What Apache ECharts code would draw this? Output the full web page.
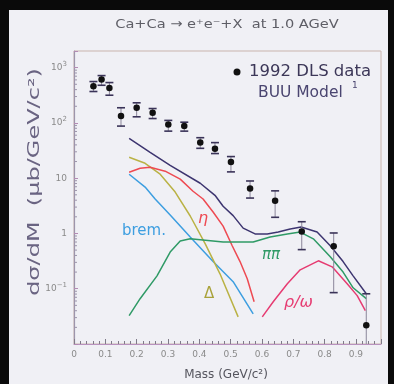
<!DOCTYPE html>
<html><head><meta charset="utf-8">
<script src="https://cdn.jsdelivr.net/npm/echarts@6/dist/echarts.min.js"></script>
<style>
html,body{margin:0;padding:0;background:#0a0a0a;}
#panel{position:absolute;left:9px;top:10px;width:379px;height:374px;background:#f0f0f5;}
#c{position:absolute;left:0;top:0;width:394px;height:384px;}
</style>
</head><body><div id="panel"></div><div id="c"></div>
<script>
// DLS dielectron data: mass (GeV/c^2), cross section and error limits (μb/GeV/c^2)
const dlsMass = [0.062, 0.088, 0.113, 0.150, 0.200, 0.251, 0.301, 0.352, 0.403, 0.450, 0.501, 0.562, 0.642, 0.727, 0.829, 0.933];
const dlsValue = [460, 608, 430, 133, 188, 152, 94, 88, 44, 34, 19.7, 6.5, 3.9, 1.08, 0.587, 0.0218];
const dlsHigh = [560, 718, 537, 188, 231, 182, 111, 103, 54, 44, 24.6, 8.9, 5.9, 1.63, 1.02, 0.081];
const dlsLow = [370, 480, 317, 87.6, 129, 120, 71, 71, 34.7, 27.9, 13, 4.37, 1.96, 0.51, 0.085, 0.01];

// BUU model contributions
const totalMass = [0.176, 0.243, 0.307, 0.403, 0.450, 0.476, 0.508, 0.540, 0.578, 0.617, 0.652, 0.690, 0.725, 0.776, 0.818, 0.859, 0.891, 0.933];
const totalValue = [52.6, 29.4, 17.1, 8.1, 4.9, 3.1, 2.1, 1.25, 0.98, 0.98, 1.06, 1.2, 1.31, 1.06, 0.60, 0.31, 0.171, 0.081];
const etaMass = [0.176, 0.211, 0.243, 0.291, 0.339, 0.380, 0.412, 0.444, 0.476, 0.505, 0.530, 0.553, 0.575];
const etaValue = [12.8, 15.1, 15.8, 13.4, 9.6, 5.8, 4.2, 2.44, 1.36, 0.60, 0.31, 0.151, 0.058];
const deltaMass = [0.176, 0.227, 0.275, 0.323, 0.371, 0.419, 0.466, 0.524];
const deltaValue = [23.9, 18.6, 11.8, 5.6, 2.07, 0.65, 0.186, 0.031];
const bremMass = [0.176, 0.227, 0.259, 0.307, 0.371, 0.444, 0.508, 0.572];
const bremValue = [11.8, 6.9, 4.2, 2.15, 0.86, 0.31, 0.134, 0.035];
const pipiMass = [0.176, 0.211, 0.265, 0.307, 0.339, 0.371, 0.476, 0.572, 0.626, 0.681, 0.722, 0.764, 0.818, 0.859, 0.891, 0.933];
const pipiValue = [0.0327, 0.066, 0.171, 0.46, 0.73, 0.80, 0.70, 0.70, 0.86, 0.98, 1.06, 0.80, 0.38, 0.20, 0.104, 0.066];
const rhoMass = [0.601, 0.636, 0.681, 0.722, 0.780, 0.824, 0.872, 0.904, 0.930];
const rhoValue = [0.031, 0.058, 0.123, 0.22, 0.32, 0.249, 0.123, 0.075, 0.040];

const xTicks = ['0', '0.1', '0.2', '0.3', '0.4', '0.5', '0.6', '0.7', '0.8', '0.9'];

const Y_MIN = 0.01, Y_MAX = 2000;
const pairs = (xs, ys) => xs.map((x, i) => [x, ys[i]]);

function curve(name, xs, ys, color) {
  return {
    name, type: 'line', data: pairs(xs, ys), showSymbol: false, smooth: false,
    lineStyle: { color, width: 1.5 }, z: 3, silent: true
  };
}

// minor ticks of the log axis at 2..9 x 10^k, placed through the axis scale
const logMinor = [];
for (let k = -2; k <= 3; k++) {
  for (let m = 2; m <= 9; m++) {
    const v = m * Math.pow(10, k);
    if (v < Y_MAX) logMinor.push([0, v]);
  }
}

const chart = echarts.init(document.getElementById('c'), null, { renderer: 'canvas' });

const supText = (e) => '{b|10}{s|' + (e < 0 ? '\u2212' + (-e) : e) + '}';

chart.setOption({
  animation: false,
  grid: { left: 74, top: 51, right: 13, bottom: 40, show: true, borderColor: '#c9b4ad', borderWidth: 1, backgroundColor: 'transparent' },
  xAxis: {
    type: 'value', min: 0, max: 0.98, interval: 0.1,
    axisLine: { show: true, lineStyle: { color: '#b992bf', width: 1.2 } },
    axisTick: { show: true, inside: true, length: 5, lineStyle: { color: '#7f7a88' } },
    minorTick: { show: true, splitNumber: 5, length: 3, lineStyle: { color: '#7f7a88' } },
    splitLine: { show: false },
    axisLabel: {
      margin: 6, color: '#8a8a8a', fontSize: 9, fontFamily: 'DejaVu Sans',
      formatter: v => { const i = Math.round(v * 10); return xTicks[i] !== undefined ? xTicks[i] : ''; }
    }
  },
  yAxis: {
    type: 'log', logBase: 10, min: Y_MIN, max: Y_MAX,
    axisLine: { show: true, lineStyle: { color: '#9d95ab', width: 1.2 } },
    axisTick: { show: true, inside: true, length: 4, lineStyle: { color: '#b48cb4' } },
    splitLine: { show: false },
    axisLabel: {
      margin: 7, color: '#8a8a8a', fontFamily: 'DejaVu Sans',
      formatter: v => {
        const l = Math.log10(v);
        const e = Math.round(l);
        if (Math.abs(l - e) > 0.01) return '';
        if (e === 0) return '{b|1}';
        if (e === 1) return '{b|10}';
        if (e < -1) return '';
        return supText(e);
      },
      rich: {
        b: { fontSize: 9, color: '#8a8a8a', fontFamily: 'DejaVu Sans', lineHeight: 14 },
        s: { fontSize: 7, color: '#8a8a8a', fontFamily: 'DejaVu Sans', verticalAlign: 'top', lineHeight: 8 }
      }
    }
  },
  series: [
    {
      name: 'yMinor', type: 'custom', silent: true, z: 2, data: logMinor,
      renderItem: (params, api) => {
        const p = api.coord([0, api.value(1)]);
        return { type: 'line', shape: { x1: p[0], y1: p[1], x2: p[0] + 3, y2: p[1] }, style: { stroke: '#9d95ab', lineWidth: 1 } };
      }
    },
    curve('brem.', bremMass, bremValue, '#3d9ee0'),
    curve('Δ', deltaMass, deltaValue, '#bab245'),
    curve('η', etaMass, etaValue, '#ee4a52'),
    curve('ππ', pipiMass, pipiValue, '#2f9a66'),
    curve('ρ/ω', rhoMass, rhoValue, '#e63c72'),
    curve('BUU Model', totalMass, totalValue, '#3d3570'),
    {
      name: 'error', type: 'custom', z: 4, silent: true,
      data: dlsMass.map((x, i) => [x, dlsHigh[i], dlsLow[i]]),
      renderItem: (params, api) => {
        const x = api.value(0), hi = api.value(1), lo = api.value(2);
        const pHi = api.coord([x, hi]);
        const pLo = api.coord([x, Math.max(lo, Y_MIN)]);
        const w = 4;
        const children = [
          { type: 'line', shape: { x1: pHi[0], y1: pHi[1], x2: pLo[0], y2: pLo[1] }, style: { stroke: '#8b869a', lineWidth: 1 } },
          { type: 'line', shape: { x1: pHi[0] - w, y1: pHi[1], x2: pHi[0] + w, y2: pHi[1] }, style: { stroke: '#3a3358', lineWidth: 1.6 } }
        ];
        if (lo > Y_MIN) {
          children.push({ type: 'line', shape: { x1: pLo[0] - w, y1: pLo[1], x2: pLo[0] + w, y2: pLo[1] }, style: { stroke: '#3a3358', lineWidth: 1.6 } });
        }
        return { type: 'group', children };
      }
    },
    {
      name: '1992 DLS data', type: 'scatter', z: 5, silent: true,
      data: pairs(dlsMass, dlsValue), symbol: 'circle', symbolSize: 6.5,
      itemStyle: { color: '#111111', opacity: 1 }
    }
  ],
  graphic: [
    { type: 'text', x: 227, y: 25, scaleX: 1.12, style: { text: 'Ca+Ca \u2192 e\u207Ae\u207B+X  at 1.0 AGeV', fill: '#5e5e66', font: '13px "DejaVu Sans"', textAlign: 'center', textVerticalAlign: 'middle' } },
    // legend
    { type: 'circle', shape: { cx: 237, cy: 72, r: 3.5 }, style: { fill: '#111' } },
    { type: 'text', x: 249, y: 72, style: { text: '1992 DLS data', fill: '#3c3758', font: '16.5px "DejaVu Sans"', textVerticalAlign: 'middle' } },
    { type: 'text', x: 258, y: 93, style: { text: 'BUU Model', fill: '#4a4570', font: '15.5px "DejaVu Sans"', textVerticalAlign: 'middle' } },
    { type: 'text', x: 352, y: 86, style: { text: '1', fill: '#4a4570', font: '9px "DejaVu Sans"', textVerticalAlign: 'middle' } },
    // curve labels
    { type: 'text', x: 122, y: 231, style: { text: 'brem.', fill: '#3d9ee0', font: '15px "DejaVu Sans"', textVerticalAlign: 'middle' } },
    { type: 'text', x: 198, y: 219, style: { text: 'η', fill: '#ee4a52', font: 'italic 16px "DejaVu Sans"', textVerticalAlign: 'middle' } },
    { type: 'text', x: 204, y: 294, style: { text: 'Δ', fill: '#a9a23a', font: '15px "DejaVu Sans"', textVerticalAlign: 'middle' } },
    { type: 'text', x: 262, y: 255, style: { text: 'ππ', fill: '#2f9a66', font: 'italic 15px "DejaVu Sans"', textVerticalAlign: 'middle' } },
    { type: 'text', x: 284, y: 303, style: { text: 'ρ/ω', fill: '#e63c72', font: 'italic 16px "DejaVu Sans"', textVerticalAlign: 'middle' } },
    // axis names
    { type: 'text', x: 35, y: 182, rotation: Math.PI / 2, scaleX: 1.6, style: { text: 'dσ/dM  (μb/GeV/c²)', fill: '#6a6482', font: '15px "DejaVu Sans"', textAlign: 'center', textVerticalAlign: 'middle' } },
    { type: 'text', x: 226, y: 375, style: { text: 'Mass (GeV/c²)', fill: '#55555e', font: '12px "DejaVu Sans"', textAlign: 'center', textVerticalAlign: 'middle' } }
  ]
});
</script>
</body></html>
